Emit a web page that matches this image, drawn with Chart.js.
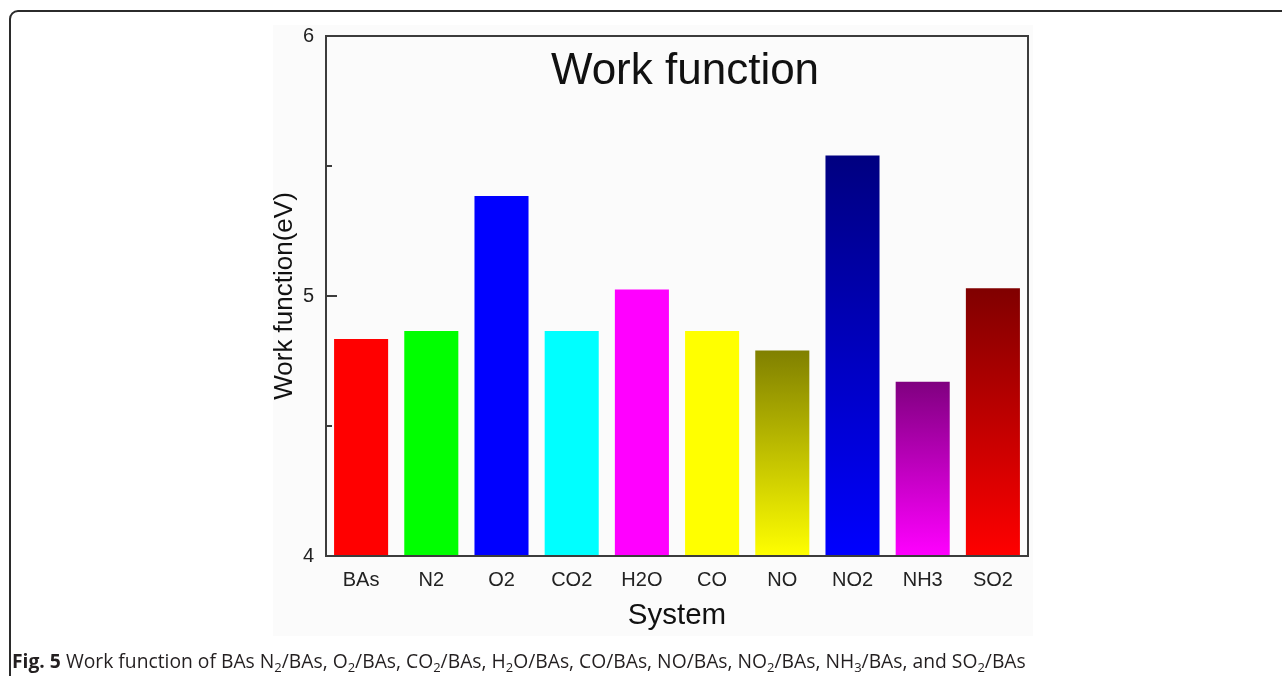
<!DOCTYPE html>
<html>
<head>
<meta charset="utf-8">
<script src="https://cdn.jsdelivr.net/npm/chart.js@4.4.1/dist/chart.umd.min.js"></script>
<style>
  html, body { margin: 0; padding: 0; background: #ffffff; }
  #wrap { position: relative; width: 1282px; height: 676px; overflow: hidden; }
  #frame {
    position: absolute; left: 9px; top: 10px; width: 1400px; height: 800px;
    border: 2px solid #2b2b2b; border-radius: 9px; box-sizing: border-box;
  }
  #panel { position: absolute; left: 273px; top: 25px; width: 760px; height: 611px; background: #fbfbfb; }
  #chartBox { position: absolute; left: 0; top: 0; width: 1282px; height: 676px; }
  #caption {
    position: absolute; left: 12px; top: 647px; white-space: nowrap;
    font-family: "Open Sans", "Noto Sans", sans-serif; font-size: 19.3px; color: #231f20;
  }
  #caption b { font-weight: 700; }
  #caption sub { font-size: 13px; vertical-align: -4px; line-height: 0; }
</style>
</head>
<body>
<div id="wrap">
  <div id="frame"></div>
  <div id="panel"></div>
  <div id="chartBox"><canvas id="chart" width="1282" height="676"></canvas></div>
  <div id="caption"><b>Fig. 5</b> Work function of BAs N<sub>2</sub>/BAs, O<sub>2</sub>/BAs, CO<sub>2</sub>/BAs, H<sub>2</sub>O/BAs, CO/BAs, NO/BAs, NO<sub>2</sub>/BAs, NH<sub>3</sub>/BAs, and SO<sub>2</sub>/BAs</div>
</div>
<script>
// Adsorption systems and their work functions (eV)
const systems = ['BAs', 'N2', 'O2', 'CO2', 'H2O', 'CO', 'NO', 'NO2', 'NH3', 'SO2'];
const workFunction = [4.835, 4.865, 5.385, 4.865, 5.025, 4.865, 4.79, 5.54, 4.67, 5.03];
const yTickValues = [4, 5, 6];
const yMinorTicks = [4.5, 5.5];

// Bar fill: colour at the bar top and at the axis (equal = solid fill)
const topColors    = ['#ff0000', '#00ff00', '#0000ff', '#00ffff', '#ff00ff', '#ffff00', '#808000', '#000080', '#800080', '#800000'];
const bottomColors = ['#ff0000', '#00ff00', '#0000ff', '#00ffff', '#ff00ff', '#ffff00', '#ffff00', '#0000ff', '#ff00ff', '#ff0000'];

const FONT = '"Liberation Sans", Arial, Helvetica, sans-serif';

function barFill(ctx) {
  const chart = ctx.chart;
  const area = chart.chartArea;
  const i = ctx.dataIndex;
  if (!area || i === undefined) return topColors[i] || '#000';
  if (topColors[i] === bottomColors[i]) return topColors[i];
  const yTop = chart.scales.y.getPixelForValue(workFunction[i]);
  const g = chart.ctx.createLinearGradient(0, yTop, 0, area.bottom);
  g.addColorStop(0, topColors[i]);
  g.addColorStop(1, bottomColors[i]);
  return g;
}

// Plot frame, inward tick marks and the in-plot heading
const framePlugin = {
  id: 'frameAndTicks',
  afterDatasetsDraw(chart) {
    const { ctx, chartArea: a, scales: { y } } = chart;
    ctx.save();
    ctx.strokeStyle = '#3c3c3c';
    ctx.lineWidth = 2;
    ctx.strokeRect(a.left, a.top, a.right - a.left, a.bottom - a.top);
    ctx.beginPath();
    yTickValues.forEach(v => {
      const py = Math.round(y.getPixelForValue(v));
      ctx.moveTo(a.left, py); ctx.lineTo(a.left + 11, py);
    });
    yMinorTicks.forEach(v => {
      const py = Math.round(y.getPixelForValue(v));
      ctx.moveTo(a.left, py); ctx.lineTo(a.left + 6, py);
    });
    ctx.stroke();
    ctx.fillStyle = '#111';
    ctx.font = '44px ' + FONT;
    ctx.textAlign = 'center';
    ctx.textBaseline = 'alphabetic';
    ctx.fillText('Work function', 685, 84);
    ctx.restore();
  }
};

new Chart(document.getElementById('chart'), {
  type: 'bar',
  data: {
    labels: systems,
    datasets: [{
      data: workFunction,
      backgroundColor: barFill,
      borderWidth: 0,
      barPercentage: 0.77,
      categoryPercentage: 1.0
    }]
  },
  options: {
    responsive: false,
    animation: false,
    devicePixelRatio: 1,
    layout: { padding: { left: 272, top: 36, right: 254, bottom: 40 } },
    plugins: { legend: { display: false }, tooltip: { enabled: false }, title: { display: false } },
    scales: {
      x: {
        grid: { display: false, drawTicks: false },
        border: { display: false },
        ticks: { color: '#222', font: { family: FONT, size: 20 }, padding: 12 },
        title: {
          display: true, text: 'System', color: '#111',
          font: { family: FONT, size: 29.5, lineHeight: 1 }, padding: { top: 0, bottom: 5 }
        },
        afterFit(scale) { scale.height = 80; }
      },
      y: {
        min: 4, max: 6,
        afterBuildTicks(scale) { scale.ticks = yTickValues.map(v => ({ value: v })); },
        grid: { display: false, drawTicks: false },
        border: { display: false },
        ticks: { color: '#222', font: { family: FONT, size: 20 }, padding: 12 },
        title: {
          display: true, text: 'Work function(eV)', color: '#111',
          font: { family: FONT, size: 26, lineHeight: 1 }, padding: { top: 0, bottom: 0 }
        },
        afterFit(scale) { scale.width = 54; }
      }
    }
  },
  plugins: [framePlugin]
});
</script>
</body>
</html>
